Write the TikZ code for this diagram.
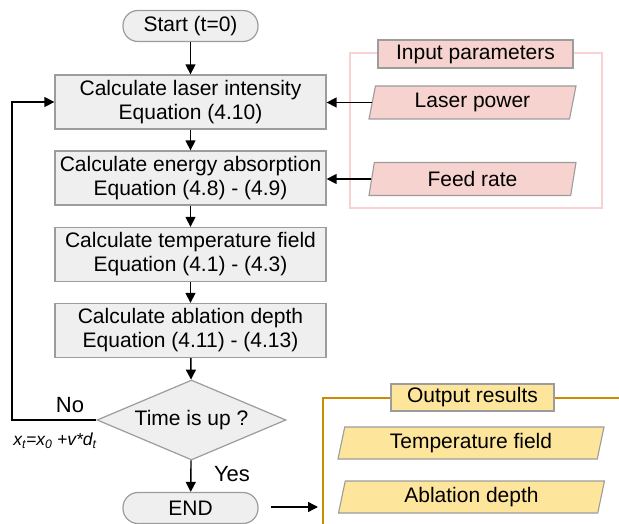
\documentclass[tikz,border=0pt]{standalone}
\usepackage{fontspec}
\setmainfont{Liberation Sans}
\usetikzlibrary{shapes.geometric,arrows.meta}
\definecolor{boxfill}{HTML}{EFEFEF}
\definecolor{boxline}{HTML}{9C9C9C}
\definecolor{pinkfill}{HTML}{F6D3CE}
\definecolor{pinkframe}{HTML}{F8D2D2}
\definecolor{goldfill}{HTML}{FDE59C}
\definecolor{goldframe}{HTML}{CC8A00}
\tikzset{
  txt/.style={font=\fontsize{21}{24}\selectfont, align=center, inner sep=0pt},
  procbox/.style={txt, draw=boxline, line width=1.3pt, fill=boxfill, minimum width=271pt, minimum height=54pt},
  terminal/.style={txt, draw=boxline, line width=1.2pt, fill=boxfill, rounded corners=15pt, minimum width=135pt, minimum height=31pt},
  decision/.style={txt, diamond, draw=boxline, line width=1.2pt, fill=boxfill, minimum width=189pt, minimum height=80pt, aspect=2.36},
  iobox/.style={txt, trapezium, trapezium left angle=71, trapezium right angle=109, trapezium stretches body, draw=boxline, line width=1.1pt, minimum height=33pt},
  titlebox/.style={txt, draw=boxline, line width=1.1pt, minimum height=28pt},
  arr/.style={-{Triangle[length=10pt,width=10pt]}, line width=1.4pt, black},
}
\begin{document}
\begin{tikzpicture}[x=1pt,y=-1pt]
\useasboundingbox (0,0) rectangle (619,524);
% input frame
\draw[pinkframe, line width=2pt] (350,53) rectangle (602,208);
\node[titlebox, fill=pinkfill, minimum width=195pt] (intitle) at (475.5,54) {Input parameters};
\node[iobox, fill=pinkfill, minimum width=207pt] (lp) at (472.5,102.5) {Laser power};
\node[iobox, fill=pinkfill, minimum width=207pt] (fr) at (472.5,179) {Feed rate};
% output frame
\draw[goldframe, line width=2.6pt] (630,398) -- (323,398) -- (323,540);
\node[titlebox, fill=goldfill, minimum width=163pt, minimum height=27pt] (outtitle) at (472.5,397.5) {Output results};
\node[iobox, fill=goldfill, minimum width=266pt, minimum height=32pt] (tf) at (471,443) {Temperature field};
\node[iobox, fill=goldfill, minimum width=266pt, minimum height=32pt] (ad) at (471.5,497) {Ablation depth};
\coordinate (outin) at (323,507);
% main flow
\node[terminal] (start) at (190.5,26) {Start (t=0)};
\node[procbox] (b1) at (190.5,102) {Calculate laser intensity\\Equation (4.10)};
\node[procbox] (b2) at (190.5,178) {Calculate energy absorption\\Equation (4.8) - (4.9)};
\node[procbox] (b3) at (190.5,254.5) {Calculate temperature field\\Equation (4.1) - (4.3)};
\node[procbox] (b4) at (190.5,330.5) {Calculate ablation depth\\Equation (4.11) - (4.13)};
\node[decision] (dec) at (191.5,420) {Time is up ?};
\node[terminal] (end) at (190.5,508) {END};
\draw[arr] (start) -- (b1);
\draw[arr] (b1) -- (b2);
\draw[arr] (b2) -- (b3);
\draw[arr] (b3) -- (b4);
\draw[arr] (b4) -- (dec);
\draw[arr] (dec) -- (end);
\draw[arr] (dec.west) -- (12,420) -- (12,102) -- (b1.west);
\draw[arr] (lp.west) -- (lp.west -| b1.east);
\draw[arr] (fr.west) -- (fr.west -| b2.east);
\draw[arr, shorten <=12pt, shorten >=5pt] (end.east |- outin) -- (outin);
% labels
\node[txt, font=\fontsize{22}{24}\selectfont] (no) at (70,405) {No};
\node[txt, font=\fontsize{22}{24}\selectfont] (yes) at (232,474) {Yes};
\node[txt, font=\fontsize{17.5}{20}\selectfont\itshape] (eq) at (55,441) {x\textsubscript{t}=x\textsubscript{0} +v*d\textsubscript{t}};
\end{tikzpicture}
\end{document}
